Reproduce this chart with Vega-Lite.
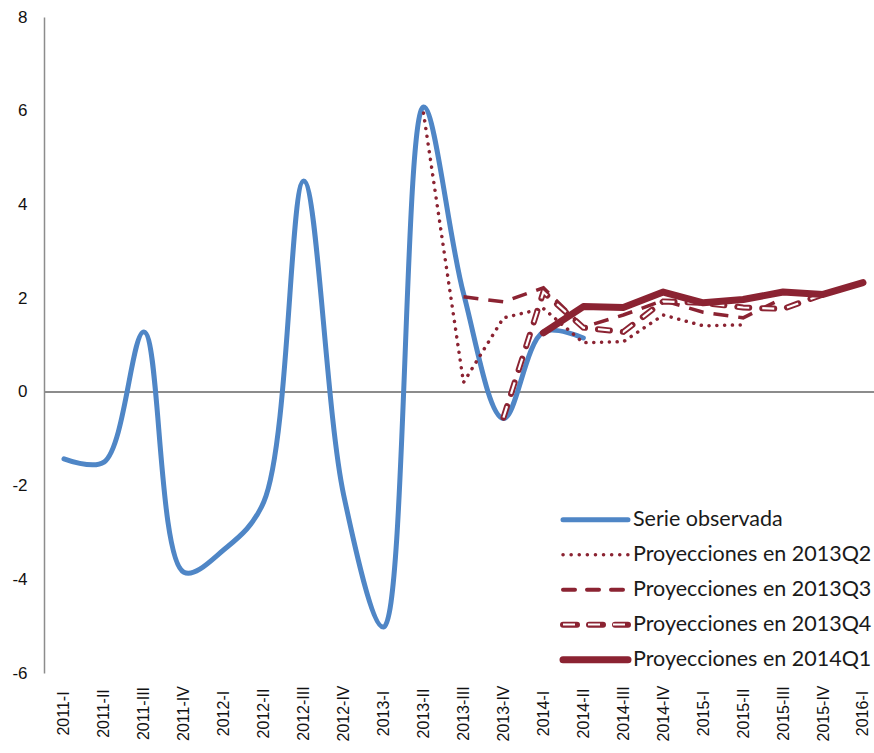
{
  "$schema": "https://vega.github.io/schema/vega-lite/v6.json",
  "width": 830,
  "height": 656,
  "autosize": {"type": "none"},
  "padding": {"left": 44, "top": 17, "right": 0, "bottom": 80},
  "background": "white",
  "config": {
    "view": {"stroke": null},
    "axis": {"labelFont": "Liberation Sans", "labelColor": "#111111"}
  },
  "data": {
    "values": [
      {"q": "2011-I", "series": "Serie observada", "v": -1.43},
      {"q": "2011-II", "series": "Serie observada", "v": -1.5},
      {"q": "2011-III", "series": "Serie observada", "v": 1.28},
      {"q": "2011-IV", "series": "Serie observada", "v": -3.85},
      {"q": "2012-I", "series": "Serie observada", "v": -3.37},
      {"q": "2012-II", "series": "Serie observada", "v": -2.35},
      {"q": "2012-III", "series": "Serie observada", "v": 4.5},
      {"q": "2012-IV", "series": "Serie observada", "v": -2.2},
      {"q": "2013-I", "series": "Serie observada", "v": -5.02},
      {"q": "2013-II", "series": "Serie observada", "v": 6.08},
      {"q": "2013-III", "series": "Serie observada", "v": 2.1},
      {"q": "2013-IV", "series": "Serie observada", "v": -0.57},
      {"q": "2014-I", "series": "Serie observada", "v": 1.28},
      {"q": "2014-II", "series": "Serie observada", "v": 1.15},

      {"q": "2013-II", "series": "Proyecciones en 2013Q2", "v": 5.95},
      {"q": "2013-III", "series": "Proyecciones en 2013Q2", "v": 0.2},
      {"q": "2013-IV", "series": "Proyecciones en 2013Q2", "v": 1.58},
      {"q": "2014-I", "series": "Proyecciones en 2013Q2", "v": 1.78},
      {"q": "2014-II", "series": "Proyecciones en 2013Q2", "v": 1.05},
      {"q": "2014-III", "series": "Proyecciones en 2013Q2", "v": 1.07},
      {"q": "2014-IV", "series": "Proyecciones en 2013Q2", "v": 1.64},
      {"q": "2015-I", "series": "Proyecciones en 2013Q2", "v": 1.41},
      {"q": "2015-II", "series": "Proyecciones en 2013Q2", "v": 1.43},

      {"q": "2013-III", "series": "Proyecciones en 2013Q3", "v": 2.03},
      {"q": "2013-IV", "series": "Proyecciones en 2013Q3", "v": 1.92},
      {"q": "2014-I", "series": "Proyecciones en 2013Q3", "v": 2.22},
      {"q": "2014-II", "series": "Proyecciones en 2013Q3", "v": 1.38},
      {"q": "2014-III", "series": "Proyecciones en 2013Q3", "v": 1.64},
      {"q": "2014-IV", "series": "Proyecciones en 2013Q3", "v": 1.95},
      {"q": "2015-I", "series": "Proyecciones en 2013Q3", "v": 1.7},
      {"q": "2015-II", "series": "Proyecciones en 2013Q3", "v": 1.58},
      {"q": "2015-III", "series": "Proyecciones en 2013Q3", "v": 2.0},

      {"q": "2013-IV", "series": "Proyecciones en 2013Q4", "v": -0.55},
      {"q": "2014-I", "series": "Proyecciones en 2013Q4", "v": 2.13},
      {"q": "2014-II", "series": "Proyecciones en 2013Q4", "v": 1.37},
      {"q": "2014-III", "series": "Proyecciones en 2013Q4", "v": 1.28},
      {"q": "2014-IV", "series": "Proyecciones en 2013Q4", "v": 1.93},
      {"q": "2015-I", "series": "Proyecciones en 2013Q4", "v": 1.9},
      {"q": "2015-II", "series": "Proyecciones en 2013Q4", "v": 1.8},
      {"q": "2015-III", "series": "Proyecciones en 2013Q4", "v": 1.77},
      {"q": "2015-IV", "series": "Proyecciones en 2013Q4", "v": 2.08},

      {"q": "2014-I", "series": "Proyecciones en 2014Q1", "v": 1.26},
      {"q": "2014-II", "series": "Proyecciones en 2014Q1", "v": 1.82},
      {"q": "2014-III", "series": "Proyecciones en 2014Q1", "v": 1.8},
      {"q": "2014-IV", "series": "Proyecciones en 2014Q1", "v": 2.13},
      {"q": "2015-I", "series": "Proyecciones en 2014Q1", "v": 1.9},
      {"q": "2015-II", "series": "Proyecciones en 2014Q1", "v": 1.97},
      {"q": "2015-III", "series": "Proyecciones en 2014Q1", "v": 2.13},
      {"q": "2015-IV", "series": "Proyecciones en 2014Q1", "v": 2.08},
      {"q": "2016-I", "series": "Proyecciones en 2014Q1", "v": 2.33}
    ]
  },
  "encoding": {
    "x": {
      "field": "q", "type": "ordinal",
      "scale": {
        "type": "point",
        "domain": ["2011-I","2011-II","2011-III","2011-IV","2012-I","2012-II","2012-III","2012-IV","2013-I","2013-II","2013-III","2013-IV","2014-I","2014-II","2014-III","2014-IV","2015-I","2015-II","2015-III","2015-IV","2016-I"],
        "padding": 0.388, "align": 0.645
      },
      "axis": {
        "title": null, "domain": false, "ticks": false,
        "labelAngle": -90, "labelAlign": "center", "labelBaseline": "middle",
        "labelPadding": 40, "labelFontSize": 16
      }
    },
    "y": {
      "field": "v", "type": "quantitative",
      "scale": {"domain": [-6, 8], "nice": false, "zero": false},
      "axis": {
        "title": null, "grid": false, "ticks": false,
        "values": [-6, -4, -2, 0, 2, 4, 6, 8],
        "labelExpr": "replace(datum.label, '\u2212', '-')",
        "domainColor": "#8c8c8c", "domainWidth": 1.5,
        "labelPadding": 17, "labelFontSize": 17
      }
    },
    "color": {
      "field": "series", "type": "nominal",
      "scale": {
        "domain": ["Serie observada", "Proyecciones en 2013Q2", "Proyecciones en 2013Q3", "Proyecciones en 2013Q4", "Proyecciones en 2014Q1"],
        "range": ["#4F86C6", "#8B2332", "#8B2332", "#8B2332", "#8B2332"]
      },
      "legend": {
        "title": null, "orient": "none", "legendX": 519, "legendY": 492,
        "padding": 0, "symbolType": "stroke", "symbolSize": 4225,
        "labelFont": "Lato", "labelFontSize": 21.5, "labelColor": "#1a1a1a",
        "labelLimit": 0, "rowPadding": 6, "gridAlign": "all", "zindex": 1,
        "encode": {
          "symbols": {
            "update": {
              "x": {"value": 32.5},
              "strokeCap": {"value": "round"},
              "strokeWidth": {"signal": "datum.value === 'Serie observada' ? 5 : datum.value === 'Proyecciones en 2013Q2' ? 3.5 : datum.value === 'Proyecciones en 2013Q3' ? 4 : datum.value === 'Proyecciones en 2013Q4' ? 6 : 7"},
              "strokeDash": {"signal": "datum.value === 'Proyecciones en 2013Q2' ? [0.1, 8] : datum.value === 'Proyecciones en 2013Q3' ? [12, 12] : datum.value === 'Proyecciones en 2013Q4' ? [14, 12] : [1, 0]"}
            }
          },
          "labels": {
            "update": {"x": {"value": 70}}
          }
        }
      }
    }
  },
  "layer": [
    {
      "mark": {"type": "rule", "color": "#8c8c8c", "strokeWidth": 1.5},
      "encoding": {"y": {"datum": 0}, "x": null, "color": null}
    },
    {
      "transform": [{"filter": "datum.series === 'Serie observada'"}],
      "mark": {"type": "line", "interpolate": "catmull-rom", "strokeWidth": 5, "strokeCap": "round"}
    },
    {
      "transform": [{"filter": "datum.series === 'Proyecciones en 2013Q2'"}],
      "mark": {"type": "line", "strokeWidth": 3.5, "strokeCap": "round", "strokeDash": [0.1, 7.7]}
    },
    {
      "transform": [{"filter": "datum.series === 'Proyecciones en 2013Q3'"}],
      "mark": {"type": "line", "strokeWidth": 3.5, "strokeCap": "butt", "strokeDash": [15, 10]}
    },
    {
      "transform": [{"filter": "datum.series === 'Proyecciones en 2013Q4'"}],
      "mark": {"type": "line", "strokeWidth": 6, "strokeCap": "round", "strokeDash": [12, 13]}
    },
    {
      "transform": [{"filter": "datum.series === 'Proyecciones en 2013Q4'"}],
      "mark": {"type": "line", "strokeWidth": 2.2, "strokeCap": "butt", "color": "white"},
      "encoding": {
        "color": null,
        "strokeDash": {
          "field": "series", "type": "nominal",
          "scale": {"domain": ["Proyecciones en 2013Q4"], "range": [[12, 13]]},
          "legend": {
            "title": null, "orient": "none", "legendX": 519, "legendY": 606,
            "padding": 0, "symbolType": "stroke", "symbolSize": 4225,
            "labelExpr": "''", "labelFontSize": 1, "zindex": 5,
            "symbolStrokeColor": "white", "symbolStrokeWidth": 2.2,
            "encode": {
              "symbols": {
                "update": {
                  "x": {"value": 32.5},
                  "y": {"value": 1.5},
                  "stroke": {"value": "white"},
                  "strokeWidth": {"value": 2.2},
                  "strokeCap": {"value": "butt"},
                  "strokeDash": {"value": [14, 12]}
                }
              }
            }
          }
        }
      }
    },
    {
      "transform": [{"filter": "datum.series === 'Proyecciones en 2014Q1'"}],
      "mark": {"type": "line", "strokeWidth": 7, "strokeCap": "round", "strokeJoin": "round"}
    }
  ]
}
